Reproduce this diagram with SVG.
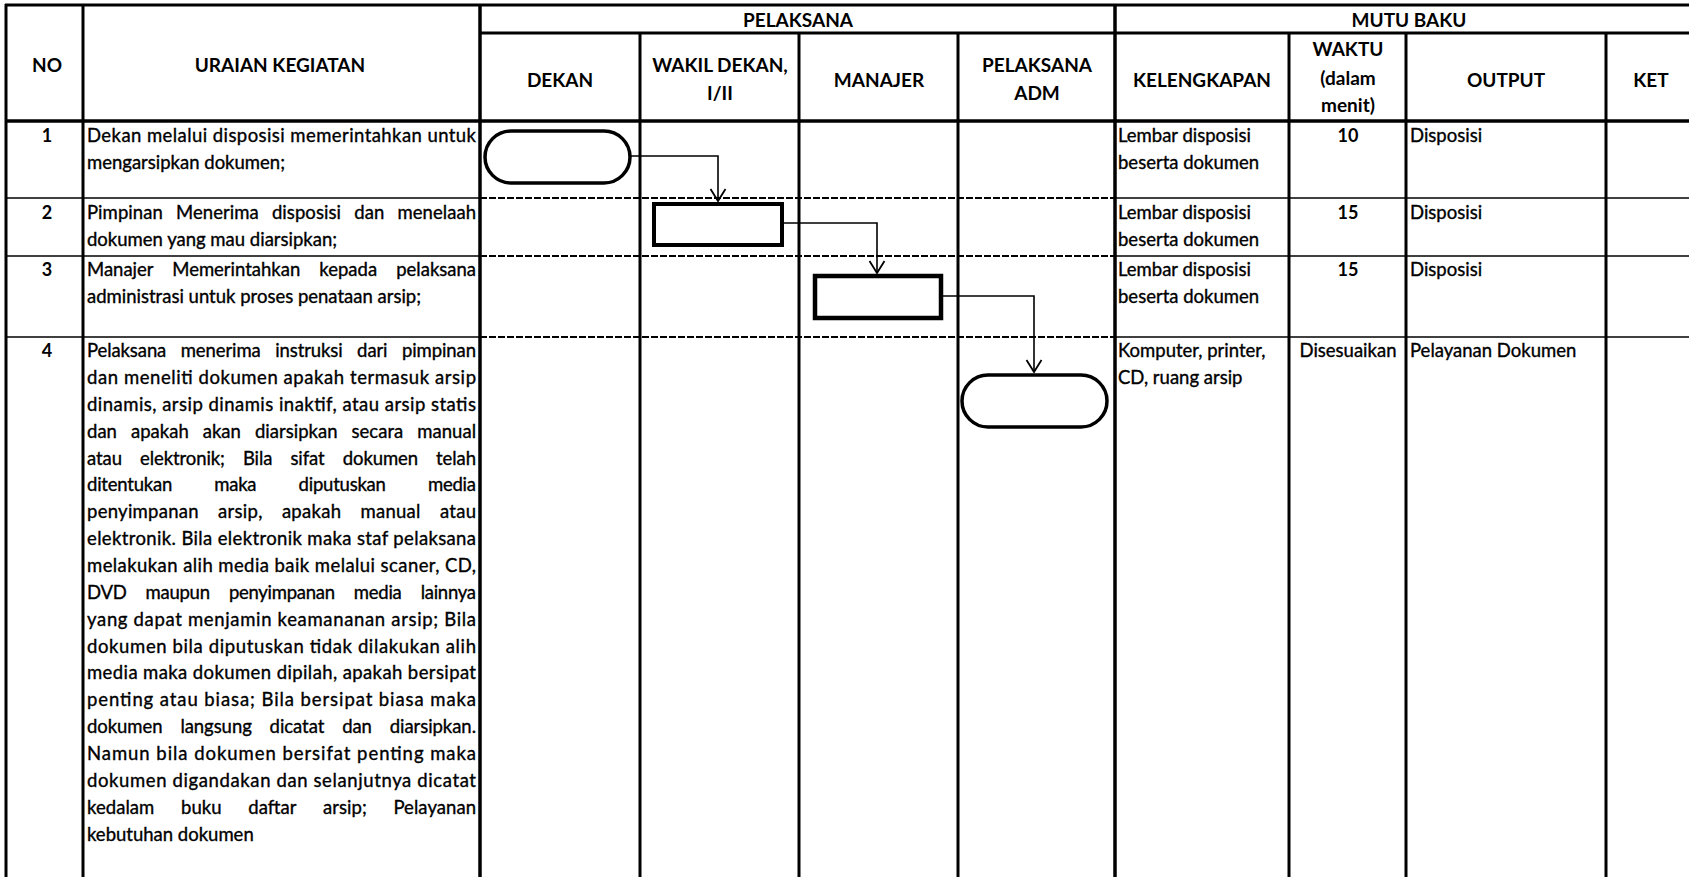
<svg xmlns="http://www.w3.org/2000/svg" width="1689" height="877" viewBox="0 0 1689 877">
<style>
.g{stroke:#000;fill:none}
.thick{stroke-width:3}
.thin{stroke-width:1.6}
.dash{stroke-width:2;stroke-dasharray:7 2}
.h{font-family:Lato,'Liberation Sans',sans-serif;font-weight:bold;font-size:19px;fill:#000;text-anchor:middle}
.b{font-family:Lato,'Liberation Sans',sans-serif;font-size:18.5px;fill:#000;stroke:#000;stroke-width:0.35}
.n{font-family:Lato,'Liberation Sans',sans-serif;font-weight:bold;font-size:18px;fill:#000;text-anchor:middle}
.shape{fill:#fff;stroke:#000}
.conn{fill:none;stroke:#000;stroke-width:1.6}
</style>
<defs>
<marker id="arr" markerUnits="userSpaceOnUse" markerWidth="24" markerHeight="20" viewBox="-12 -10 24 20" refX="0" refY="0" orient="auto" overflow="visible">
<path d="M-12,-7.5 L0,0 L-12,7.5" fill="none" stroke="#000" stroke-width="1.8"/>
</marker>
</defs>
<rect width="1689" height="877" fill="#fff"/>
<g id="grid" class="g">
<line class="thick" x1="5" y1="5" x2="1689" y2="5"/>
<line class="thick" x1="6" y1="4" x2="6" y2="877"/>
<line class="thick" x1="83" y1="4" x2="83" y2="877"/>
<line class="thick" x1="480" y1="4" x2="480" y2="877" style="stroke-width:3.5"/>
<line class="thick" x1="1115" y1="4" x2="1115" y2="877" style="stroke-width:3.5"/>
<line class="thick" x1="480" y1="33" x2="1689" y2="33"/>
<line class="thick" x1="640" y1="33" x2="640" y2="877"/>
<line class="thick" x1="799" y1="33" x2="799" y2="877"/>
<line class="thick" x1="958" y1="33" x2="958" y2="877"/>
<line class="thick" x1="1289" y1="33" x2="1289" y2="877"/>
<line class="thick" x1="1406" y1="33" x2="1406" y2="877"/>
<line class="thick" x1="1606" y1="33" x2="1606" y2="877"/>
<line class="thick" x1="5" y1="121" x2="1689" y2="121" style="stroke-width:3.5"/>
<line class="thin" x1="6" y1="198" x2="480" y2="198"/>
<line class="dash" x1="480" y1="198" x2="1115" y2="198"/>
<line class="thin" x1="1115" y1="198" x2="1689" y2="198"/>
<line class="thin" x1="6" y1="256" x2="480" y2="256"/>
<line class="dash" x1="480" y1="256" x2="1115" y2="256"/>
<line class="thin" x1="1115" y1="256" x2="1689" y2="256"/>
<line class="thin" x1="6" y1="337" x2="480" y2="337"/>
<line class="dash" x1="480" y1="337" x2="1115" y2="337"/>
<line class="thin" x1="1115" y1="337" x2="1689" y2="337"/>
</g>
<g id="headers">
<text class="h" x="47" y="72">NO</text>
<text class="h" x="280" y="72">URAIAN KEGIATAN</text>
<text class="h" x="798" y="27">PELAKSANA</text>
<text class="h" x="1409" y="27">MUTU BAKU</text>
<text class="h" x="560" y="87">DEKAN</text>
<text class="h" x="720" y="72">WAKIL DEKAN,</text>
<text class="h" x="720" y="100">I/II</text>
<text class="h" x="879" y="87">MANAJER</text>
<text class="h" x="1037" y="72">PELAKSANA</text>
<text class="h" x="1037" y="100">ADM</text>
<text class="h" x="1202" y="87">KELENGKAPAN</text>
<text class="h" x="1348" y="56">WAKTU</text>
<text class="h" x="1348" y="84.5">(dalam</text>
<text class="h" x="1348" y="112">menit)</text>
<text class="h" x="1506" y="87">OUTPUT</text>
<text class="h" x="1651" y="87">KET</text>
</g>
<g id="row1">
<text class="n" x="47" y="142">1</text>
<text class="b" x="87" y="142" textLength="389" lengthAdjust="spacing">Dekan melalui disposisi memerintahkan untuk</text>
<text class="b" x="87" y="169">mengarsipkan dokumen;</text>
<text class="b" x="1118" y="142">Lembar disposisi</text>
<text class="b" x="1118" y="169">beserta dokumen</text>
<text class="n" x="1348" y="142">10</text>
<text class="b" x="1410" y="142">Disposisi</text>
</g>
<g id="row2">
<text class="n" x="47" y="218.5">2</text>
<text class="b" x="87" y="218.5" textLength="389" lengthAdjust="spacing" style="word-spacing:8.4px">Pimpinan Menerima disposisi dan menelaah</text>
<text class="b" x="87" y="245.5">dokumen yang mau diarsipkan;</text>
<text class="b" x="1118" y="218.5">Lembar disposisi</text>
<text class="b" x="1118" y="245.5">beserta dokumen</text>
<text class="n" x="1348" y="218.5">15</text>
<text class="b" x="1410" y="218.5">Disposisi</text>
</g>
<g id="row3">
<text class="n" x="47" y="276">3</text>
<text class="b" x="87" y="276" textLength="389" lengthAdjust="spacing" style="word-spacing:14.4px">Manajer Memerintahkan kepada pelaksana</text>
<text class="b" x="87" y="303">administrasi untuk proses penataan arsip;</text>
<text class="b" x="1118" y="276">Lembar disposisi</text>
<text class="b" x="1118" y="303">beserta dokumen</text>
<text class="n" x="1348" y="276">15</text>
<text class="b" x="1410" y="276">Disposisi</text>
</g>
<g id="row4">
<text class="n" x="47" y="357">4</text>
<text class="b" x="87" y="357" textLength="389" lengthAdjust="spacing" style="word-spacing:9.9px">Pelaksana menerima instruksi dari pimpinan</text>
<text class="b" x="87" y="383.9" textLength="389" lengthAdjust="spacing">dan meneliti dokumen apakah termasuk arsip</text>
<text class="b" x="87" y="410.7" textLength="389" lengthAdjust="spacing">dinamis, arsip dinamis inaktif, atau arsip statis</text>
<text class="b" x="87" y="437.6" textLength="389" lengthAdjust="spacing" style="word-spacing:9.2px">dan apakah akan diarsipkan secara manual</text>
<text class="b" x="87" y="464.5" textLength="389" lengthAdjust="spacing" style="word-spacing:13.4px">atau elektronik; Bila sifat dokumen telah</text>
<text class="b" x="87" y="491.4" textLength="389" lengthAdjust="spacing" style="word-spacing:37.7px">ditentukan maka diputuskan media</text>
<text class="b" x="87" y="518.2" textLength="389" lengthAdjust="spacing" style="word-spacing:14.2px">penyimpanan arsip, apakah manual atau</text>
<text class="b" x="87" y="545.1" textLength="389" lengthAdjust="spacing">elektronik. Bila elektronik maka staf pelaksana</text>
<text class="b" x="87" y="572" textLength="389" lengthAdjust="spacing">melakukan alih media baik melalui scaner, CD,</text>
<text class="b" x="87" y="598.8" textLength="389" lengthAdjust="spacing" style="word-spacing:14.7px">DVD maupun penyimpanan media lainnya</text>
<text class="b" x="87" y="625.7" textLength="389" lengthAdjust="spacing">yang dapat menjamin keamananan arsip; Bila</text>
<text class="b" x="87" y="652.6" textLength="389" lengthAdjust="spacing">dokumen bila diputuskan tidak dilakukan alih</text>
<text class="b" x="87" y="679.4" textLength="389" lengthAdjust="spacing">media maka dokumen dipilah, apakah bersipat</text>
<text class="b" x="87" y="706.3" textLength="389" lengthAdjust="spacing">penting atau biasa; Bila bersipat biasa maka</text>
<text class="b" x="87" y="733.2" textLength="389" lengthAdjust="spacing" style="word-spacing:13.2px">dokumen langsung dicatat dan diarsipkan.</text>
<text class="b" x="87" y="760" textLength="389" lengthAdjust="spacing">Namun bila dokumen bersifat penting maka</text>
<text class="b" x="87" y="786.9" textLength="389" lengthAdjust="spacing">dokumen digandakan dan selanjutnya dicatat</text>
<text class="b" x="87" y="813.8" textLength="389" lengthAdjust="spacing" style="word-spacing:21.9px">kedalam buku daftar arsip; Pelayanan</text>
<text class="b" x="87" y="840.7">kebutuhan dokumen</text>
<text class="b" x="1118" y="357">Komputer, printer,</text>
<text class="b" x="1118" y="384">CD, ruang arsip</text>
<text class="b" x="1348" y="357" text-anchor="middle">Disesuaikan</text>
<text class="b" x="1410" y="357">Pelayanan Dokumen</text>
</g>
<g id="node1"><rect class="shape" x="485" y="131" width="145" height="52" rx="26" style="stroke-width:3.5"/></g>
<g id="node2"><rect class="shape" x="654" y="204" width="128" height="41" style="stroke-width:4"/></g>
<g id="node3"><rect class="shape" x="815" y="276" width="126" height="42" style="stroke-width:4.5"/></g>
<g id="node4"><rect class="shape" x="962" y="375" width="145" height="52" rx="26" style="stroke-width:3.5"/></g>
<g id="connectors">
<path class="conn" d="M631,156 H718 V201" marker-end="url(#arr)"/>
<path class="conn" d="M782,223 H877 V273" marker-end="url(#arr)"/>
<path class="conn" d="M941,296 H1034 V372" marker-end="url(#arr)"/>
</g>
</svg>
